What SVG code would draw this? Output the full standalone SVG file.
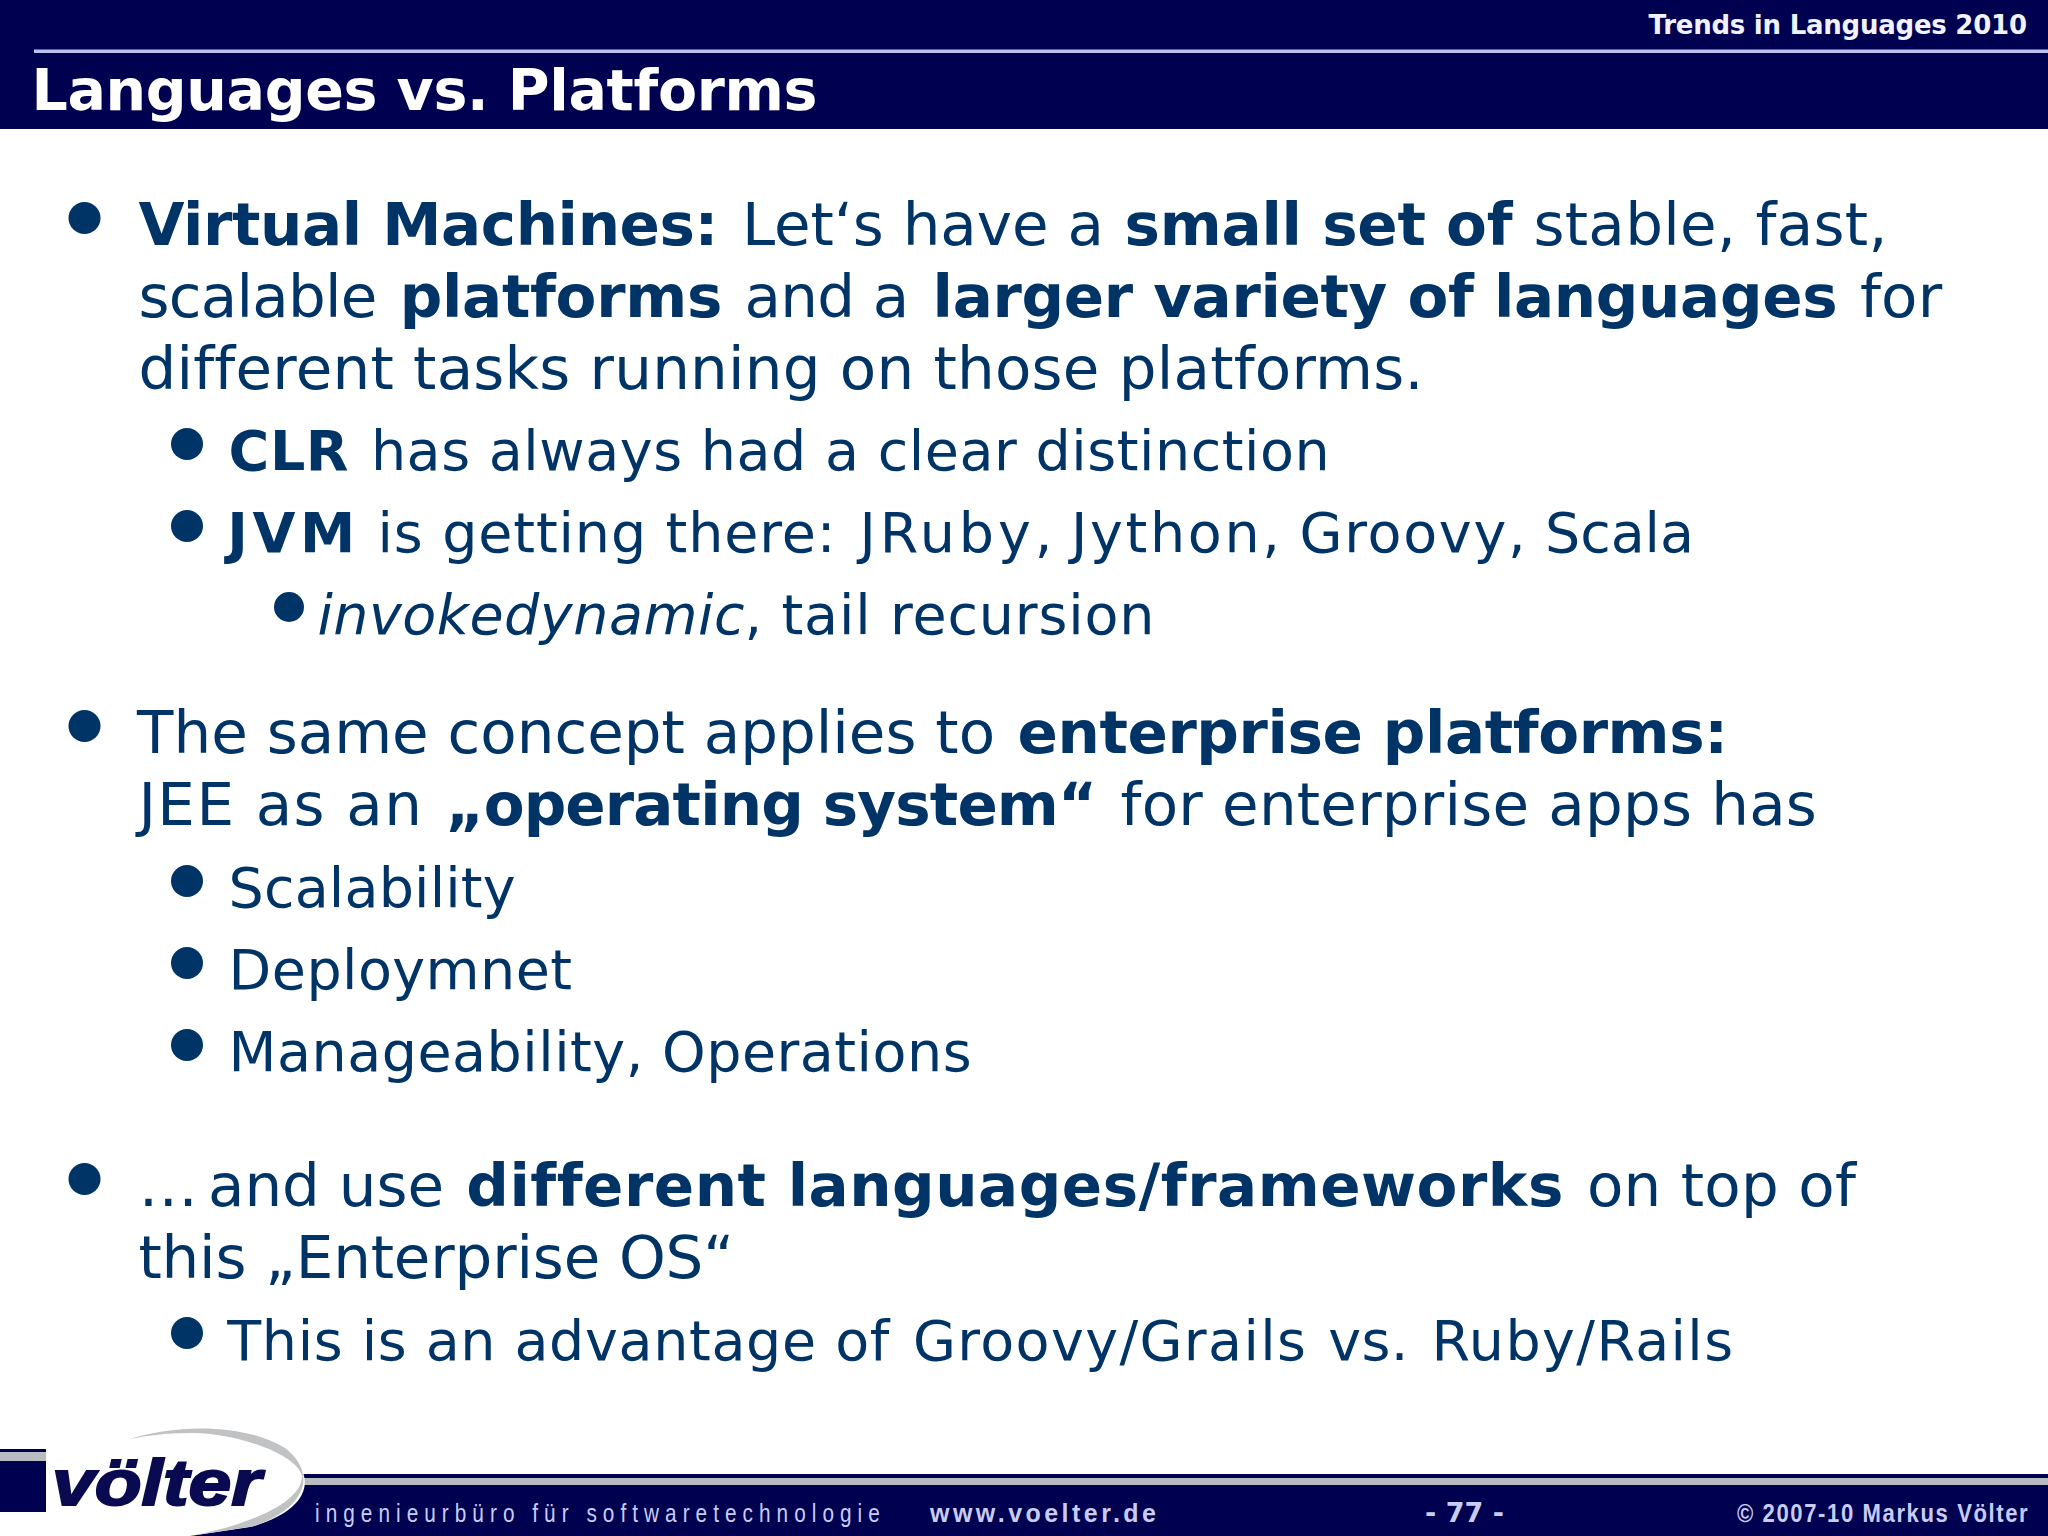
<svg xmlns="http://www.w3.org/2000/svg" width="2048" height="1536" viewBox="0 0 2048 1536">
<style>
text{white-space:pre;font-variant-ligatures:none}
.b{font-family:"DejaVu Sans",Verdana,sans-serif;fill:#003366;font-size:59.500px}
.s{font-size:55.500px}
.w{font-weight:bold}
.f{font-family:"Liberation Sans",Arial,sans-serif;fill:#c8ccf4}
.d{fill:#003366}
</style>
<rect width="2048" height="1536" fill="#fff"/>
<g id="header">
<rect width="2048" height="129" fill="#000050"/>
<rect x="34" y="49.500" width="2014" height="3.500" fill="#bcc0ee"/>
<text x="1648.500" y="34" textLength="378.500" font-family="DejaVu Sans, Verdana, sans-serif" font-weight="bold" font-size="26" fill="#f0f2ff">Trends in Languages 2010</text>
<text x="31.500" y="110" textLength="786" font-family="DejaVu Sans, Verdana, sans-serif" font-weight="bold" font-size="57" fill="#fff">Languages vs. Platforms</text>
</g>
<g id="body">
<ellipse class="d" cx="84.500" cy="218" rx="16" ry="16"/>
<text class="b" y="244.500"><tspan class="w" x="138.400" textLength="580">Virtual Machines:</tspan><tspan x="741.900" textLength="362">Let‘s have a</tspan><tspan class="w" x="1124.600" textLength="388">small set of</tspan><tspan x="1533.400" textLength="354">stable, fast,</tspan></text>
<text class="b" y="316.500"><tspan x="138.400" textLength="239">scalable</tspan><tspan class="w" x="399.700" textLength="322.600">platforms</tspan><tspan x="744.500" textLength="164.600">and a</tspan><tspan class="w" x="932.600" textLength="905">larger variety of languages</tspan><tspan x="1859.900" textLength="82.300">for</tspan></text>
<text class="b" y="388.500" x="138.400" textLength="1285">different tasks running on those platforms.</text>
<ellipse class="d" cx="187" cy="444" rx="16" ry="16"/>
<text class="b s" y="470"><tspan class="w" x="228.600" textLength="120">CLR</tspan><tspan x="370.900" textLength="958.700">has always had a clear distinction</tspan></text>
<ellipse class="d" cx="187" cy="526" rx="16" ry="16"/>
<text class="b s" y="552"><tspan class="w" x="227.300" textLength="128">JVM</tspan><tspan x="377.500" textLength="458">is getting there:</tspan><tspan x="859.400" textLength="193">JRuby,</tspan><tspan x="1071" textLength="209">Jython,</tspan><tspan x="1299.600" textLength="226">Groovy,</tspan><tspan x="1545" textLength="149">Scala</tspan></text>
<ellipse class="d" cx="289" cy="607" rx="15" ry="15"/>
<text class="b s" y="634"><tspan font-style="italic" x="317.400" textLength="427">invokedynamic</tspan><tspan x="744.500" textLength="410">, tail recursion</tspan></text>
<ellipse class="d" cx="84.500" cy="726" rx="16" ry="16"/>
<text class="b" y="752.500"><tspan x="137.100" textLength="858">The same concept applies to</tspan><tspan class="w" x="1017.500" textLength="710.500">enterprise platforms:</tspan></text>
<text class="b" y="824.500"><tspan x="138.400" textLength="283.500">JEE as an</tspan><tspan class="w" x="445.400" textLength="651.700">„operating system“</tspan><tspan x="1120.600" textLength="696.200">for enterprise apps has</tspan></text>
<ellipse class="d" cx="187" cy="881" rx="16" ry="16"/>
<text class="b s" x="228.600" y="906.500" textLength="287">Scalability</text>
<ellipse class="d" cx="187" cy="963" rx="16" ry="16"/>
<text class="b s" x="228.600" y="988.500" textLength="343.500">Deploymnet</text>
<ellipse class="d" cx="187" cy="1045" rx="16" ry="16"/>
<text class="b s" x="228.600" y="1070.500" textLength="743">Manageability, Operations</text>
<ellipse class="d" cx="84.500" cy="1179" rx="16" ry="16"/>
<text class="b" y="1206"><tspan x="138.400" textLength="46">…</tspan><tspan x="208" textLength="236">and use</tspan><tspan class="w" x="466.300" textLength="1097">different languages/frameworks</tspan><tspan x="1586.900" textLength="269">on top of</tspan></text>
<text class="b" x="138.400" y="1278" textLength="595.600">this „Enterprise OS“</text>
<ellipse class="d" cx="187" cy="1333" rx="16" ry="16"/>
<text class="b s" y="1359.500"><tspan x="227.300" textLength="662">This is an advantage of</tspan><tspan x="912.900" textLength="393">Groovy/Grails</tspan><tspan x="1328.300" textLength="80">vs.</tspan><tspan x="1431.400" textLength="301.700">Ruby/Rails</tspan></text>
</g>
<g id="footer">
<rect y="1474" width="2048" height="62" fill="#000050"/>
<rect y="1478" width="2048" height="7" fill="#b8bcc0"/>
<text class="f" transform="translate(315 1522) scale(.8 1)" textLength="706" font-size="26">ingenieurbüro für softwaretechnologie</text>
<text class="f" x="930" y="1522" textLength="226" font-size="25" font-weight="bold">www.voelter.de</text>
<text x="1425" y="1522" textLength="79" font-family="DejaVu Sans, Verdana, sans-serif" font-size="27" font-weight="bold" fill="#c8ccf4">- 77 -</text>
<text class="f" transform="translate(1737 1522) scale(.85 1)" textLength="342" font-size="26" font-weight="bold">© 2007-10 Markus Völter</text>
</g>
<g id="logo">
<path d="M0 1536V1512H46V1449L130 1439C170 1425 245 1420 285 1450C318 1475 312 1510 250 1527L190 1536Z" fill="#fff"/>
<rect y="1449" width="46" height="3" fill="#000050"/>
<rect y="1452" width="46" height="9" fill="#b8bcc0"/>
<rect y="1461" width="46" height="49" fill="#000050"/>
<path d="M130 1439C170 1426 240 1421 285 1448C314 1470 312 1505 255 1526L190 1536C240 1527 302 1505 302 1476C296 1452 230 1432 190 1433C165 1433 145 1436 130 1439Z" fill="#c0c2c4"/>
<text transform="translate(52 1505) scale(1.2 1)" font-family="Liberation Sans, Arial, sans-serif" font-weight="bold" font-style="italic" font-size="64" fill="#0a0a50" stroke="#0a0a50" stroke-width="2">völter</text>
</g>
</svg>
